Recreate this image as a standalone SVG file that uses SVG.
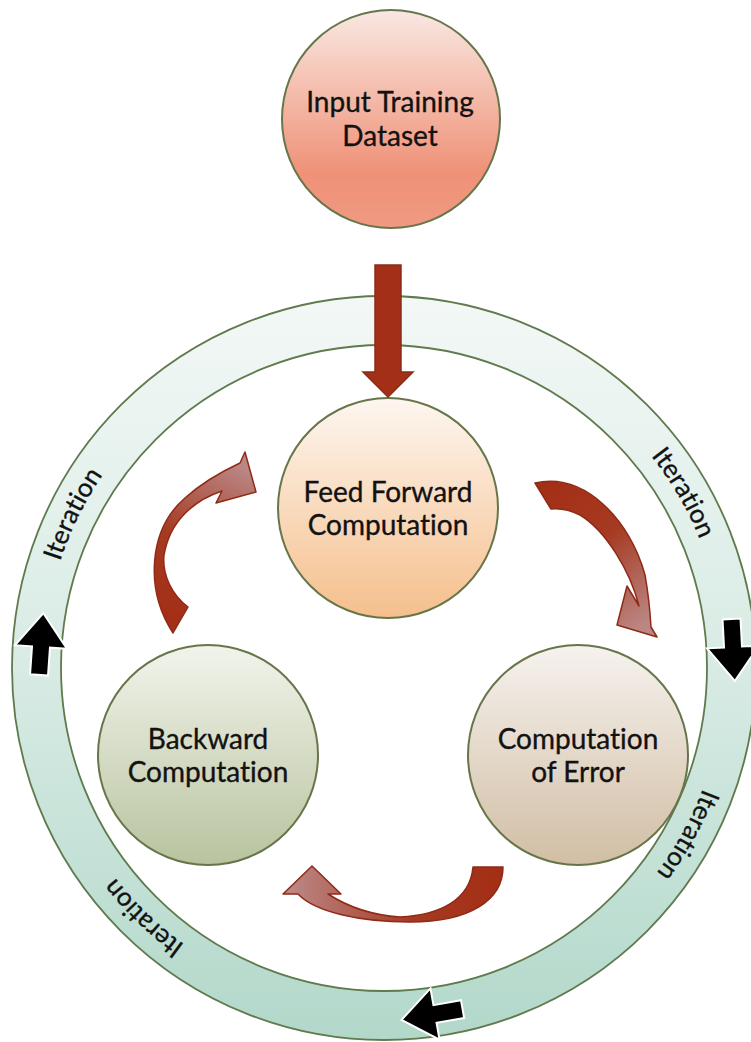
<svg xmlns="http://www.w3.org/2000/svg" width="751" height="1042" viewBox="0 0 751 1042">
<defs>
<style>
.node{stroke:#66764a;stroke-width:2}
.lbl{font-family:Lato,"Liberation Sans",sans-serif;font-size:28px;fill:#121212;stroke:#121212;stroke-width:0.35;text-anchor:middle;font-variant-ligatures:none}
.it{font-family:Lato,"Liberation Sans",sans-serif;font-size:26px;fill:#121212;stroke:#121212;stroke-width:0.3;font-variant-ligatures:none}
.curv{stroke:#8f2a16;stroke-width:1.5;stroke-linejoin:round}
.blk{fill:#000;stroke:#fff;stroke-width:2;stroke-linejoin:miter}
</style>
<linearGradient id="gRing" x1="0" y1="296" x2="0" y2="1040" gradientUnits="userSpaceOnUse"><stop offset="0" stop-color="#f3f8f6"/><stop offset="0.5" stop-color="#d8ebe4"/><stop offset="1" stop-color="#b2d8ca"/></linearGradient>
<linearGradient id="gIn" x1="0" y1="0" x2="0" y2="1"><stop offset="0" stop-color="#f9e8e2"/><stop offset="0.75" stop-color="#ef9177"/><stop offset="1" stop-color="#f09a83"/></linearGradient>
<linearGradient id="gFF" x1="0" y1="0" x2="0" y2="1"><stop offset="0" stop-color="#fdf6f0"/><stop offset="1" stop-color="#f5bf8c"/></linearGradient>
<linearGradient id="gErr" x1="0" y1="0" x2="0" y2="1"><stop offset="0" stop-color="#f6f2ee"/><stop offset="1" stop-color="#d1bea4"/></linearGradient>
<linearGradient id="gBk" x1="0" y1="0" x2="0" y2="1"><stop offset="0" stop-color="#f2f4ec"/><stop offset="1" stop-color="#b8c39e"/></linearGradient>
<linearGradient id="gA" x1="175" y1="620" x2="250" y2="470" gradientUnits="userSpaceOnUse"><stop offset="0" stop-color="#a32f16"/><stop offset="0.45" stop-color="#a63a22"/><stop offset="1" stop-color="#bb8785"/></linearGradient>
<linearGradient id="gB" x1="540" y1="490" x2="645" y2="625" gradientUnits="userSpaceOnUse"><stop offset="0" stop-color="#a32f16"/><stop offset="0.45" stop-color="#a63a22"/><stop offset="1" stop-color="#bb8785"/></linearGradient>
<linearGradient id="gC" x1="495" y1="0" x2="290" y2="0" gradientUnits="userSpaceOnUse"><stop offset="0" stop-color="#a32f16"/><stop offset="0.4" stop-color="#a63a22"/><stop offset="1" stop-color="#bb8785"/></linearGradient>
<path id="blkArrow" d="M-28,-9 H0 V-26 L34,0 L0,26 V9 H-28 Z"/>
<path id="ringPath" d="M384,327 A341,341 0 1,1 384,1009 A341,341 0 1,1 384,327"/>
</defs>
<rect width="751" height="1042" fill="#fff"/>
<g id="ring">
<path d="M384,296 A372,372 0 1,1 384,1040 A372,372 0 1,1 384,296 Z M384,345 A323,323 0 1,0 384,991 A323,323 0 1,0 384,345 Z" fill="url(#gRing)" fill-rule="evenodd" stroke="#5f7a4c" stroke-width="1.8"/>
<text class="it"><textPath href="#ringPath" startOffset="355" text-anchor="middle">Iteration</textPath></text>
<text class="it"><textPath href="#ringPath" startOffset="707" text-anchor="middle">Iteration</textPath></text>
<text class="it"><textPath href="#ringPath" startOffset="1332" text-anchor="middle">Iteration</textPath></text>
<text class="it"><textPath href="#ringPath" startOffset="1763" text-anchor="middle">Iteration</textPath></text>
</g>
<g id="input">
<circle class="node" cx="391" cy="119" r="109" fill="url(#gIn)"/>
<text class="lbl" x="390" y="112">Input Training</text>
<text class="lbl" x="390" y="146">Dataset</text>
</g>
<g id="feedforward">
<circle class="node" cx="388" cy="508" r="110" fill="url(#gFF)"/>
<text class="lbl" x="388" y="502">Feed Forward</text>
<text class="lbl" x="388" y="535">Computation</text>
</g>
<g id="error">
<circle class="node" cx="578" cy="755" r="110" fill="url(#gErr)"/>
<text class="lbl" x="578" y="749">Computation</text>
<text class="lbl" x="578" y="782">of Error</text>
</g>
<g id="backward">
<circle class="node" cx="208" cy="755" r="110" fill="url(#gBk)"/>
<text class="lbl" x="208" y="749">Backward</text>
<text class="lbl" x="208" y="782">Computation</text>
</g>
<g id="connectors">
<path d="M375,265 H401 V372 H413 L388,397 L363,372 H375 Z" fill="#a32f16" stroke="#8a2c18" stroke-width="1.5"/>
<path class="curv" fill="url(#gA)" d="M173,633 C145,590 148,530 185,498 C205,480 225,470 240,463 L245,452 L256,492 L216,503 L222,491 C195,500 170,520 164,555 C162,575 172,595 188,607 Z"/>
<path class="curv" fill="url(#gB)" d="M535,483 C585,472 630,520 645,575 C648,592 650,610 651,627 L657,637 L617,625 L627,586 L639,606 C630,570 605,530 580,515 C570,510 560,508 551,509 Z"/>
<path class="curv" fill="url(#gC)" d="M503,867 C503,900 470,922 410,922 C360,922 315,912 298,894 L283,894 L312,866 L341,894 L328,894 C345,905 370,915 400,917 C440,915 470,900 473,867 Z"/>
<use href="#blkArrow" class="blk" transform="translate(41,647) rotate(-86)"/>
<use href="#blkArrow" class="blk" transform="translate(733,647) rotate(87)"/>
<use href="#blkArrow" class="blk" transform="translate(435,1014) rotate(170)"/>
</g>
</svg>
